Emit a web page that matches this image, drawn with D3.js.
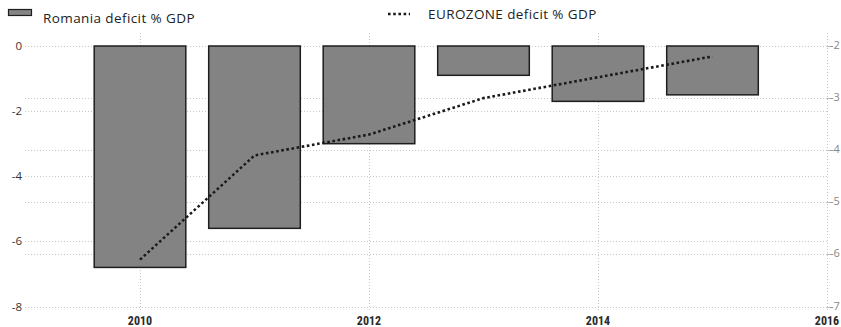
<!DOCTYPE html>
<html lang="en">
<head>
<meta charset="UTF-8">
<title>Romania vs Eurozone deficit</title>
<script src="https://d3js.org/d3.v7.min.js"></script>
<style>
    body { margin: 0; background: #fff; font-family: "Open Sans", "DejaVu Sans", sans-serif; }
    svg { display: block; }
</style>
</head>
<body>
<div id="chart"></div>
<script>
// Data
const years = [2010, 2011, 2012, 2013, 2014, 2015];
const romania = [-6.8, -5.6, -3.0, -0.9, -1.7, -1.5];
const eurozone = [-6.1, -4.1, -3.7, -3.0, -2.6, -2.2];
const leftTicks = [0, -2, -4, -6, -8];
const rightTicks = [-2, -3, -4, -5, -6, -7];
const xTicks = [2010, 2012, 2014, 2016];

const width = 841, height = 327;
const svg = d3.select("#chart").append("svg")
    .attr("width", width).attr("height", height);

// Scales
const x = d3.scaleLinear().domain([2009, 2016]).range([25.5, 827]);
const yL = d3.scaleLinear().domain([0, -8]).range([46, 306.5]);
const yR = d3.scaleLinear().domain([-2, -7]).range([46, 306.5]);

const grid = svg.append("g")
    .attr("stroke", "#c8c8c8")
    .attr("stroke-width", 1)
    .attr("stroke-dasharray", "1,2")
    .attr("shape-rendering", "crispEdges");

// horizontal gridlines for both axes
grid.selectAll("line.hl").data(leftTicks).join("line")
    .attr("class", "hl")
    .attr("x1", 25).attr("x2", 827)
    .attr("y1", d => Math.round(yL(d)) + 0.5).attr("y2", d => Math.round(yL(d)) + 0.5);
grid.selectAll("line.hr").data(rightTicks).join("line")
    .attr("class", "hr")
    .attr("x1", 25).attr("x2", 827)
    .attr("y1", d => Math.round(yR(d)) + 0.5).attr("y2", d => Math.round(yR(d)) + 0.5);
// vertical gridlines
grid.selectAll("line.v").data(xTicks).join("line")
    .attr("class", "v")
    .attr("x1", d => Math.round(x(d)) + 0.5).attr("x2", d => Math.round(x(d)) + 0.5)
    .attr("y1", 33).attr("y2", 311);

// Bars
const barW = x(2009.8) - x(2009);
svg.append("g").selectAll("rect").data(years).join("rect")
    .attr("x", d => x(d) - barW / 2)
    .attr("y", yL(0))
    .attr("width", barW)
    .attr("height", (d, i) => yL(romania[i]) - yL(0))
    .attr("fill", "#838383")
    .attr("stroke", "#1e1e1e")
    .attr("stroke-width", 1.5);

// Eurozone line (right axis)
const line = d3.line()
    .x((d, i) => x(years[i]))
    .y(d => yR(d));
svg.append("path")
    .datum(eurozone)
    .attr("d", line)
    .attr("fill", "none")
    .attr("stroke", "#1a1a1a")
    .attr("stroke-width", 2.6)
    .attr("stroke-dasharray", "2.6,2.6");

// Left axis labels
svg.append("g").selectAll("text").data(leftTicks).join("text")
    .attr("x", 22).attr("y", d => yL(d) + 4)
    .attr("text-anchor", "end")
    .attr("font-size", 11.5)
    .attr("fill", "#333")
    .text(d => d);

// Right axis
const ra = svg.append("g");
ra.selectAll("line").data(rightTicks).join("line")
    .attr("x1", 827).attr("x2", 831)
    .attr("y1", d => Math.round(yR(d)) + 0.5).attr("y2", d => Math.round(yR(d)) + 0.5)
    .attr("stroke", "#bbb");
ra.selectAll("text").data(rightTicks).join("text")
    .attr("x", 830).attr("y", d => yR(d) + 3)
    .attr("font-size", 11)
    .attr("fill", "#888")
    .text(d => d);

// X axis labels
svg.append("g").selectAll("text").data(xTicks).join("text")
    .attr("x", d => x(d)).attr("y", 324.5)
    .attr("text-anchor", "middle")
    .attr("font-family", "'Liberation Sans Narrow', 'Roboto Condensed', 'Liberation Sans', sans-serif")
    .attr("font-weight", "bold")
    .attr("font-size", 12)
    .attr("fill", "#2a2a2a")
    .text(d => d);

// Legend
const lg = svg.append("g").attr("font-size", 13.5).attr("letter-spacing", 0.4).attr("fill", "#222");
lg.append("rect")
    .attr("x", 8.5).attr("y", 9.5).attr("width", 23).attr("height", 6)
    .attr("fill", "#838383").attr("stroke", "#1e1e1e").attr("stroke-width", 1.2);
lg.append("text").attr("x", 43).attr("y", 22.5).text("Romania deficit % GDP");
lg.append("line")
    .attr("x1", 388).attr("x2", 410).attr("y1", 14).attr("y2", 14)
    .attr("stroke", "#1a1a1a").attr("stroke-width", 2.6)
    .attr("stroke-dasharray", "2.6,2.6");
lg.append("text").attr("x", 428).attr("y", 19).text("EUROZONE deficit % GDP");
</script>
</body>
</html>
